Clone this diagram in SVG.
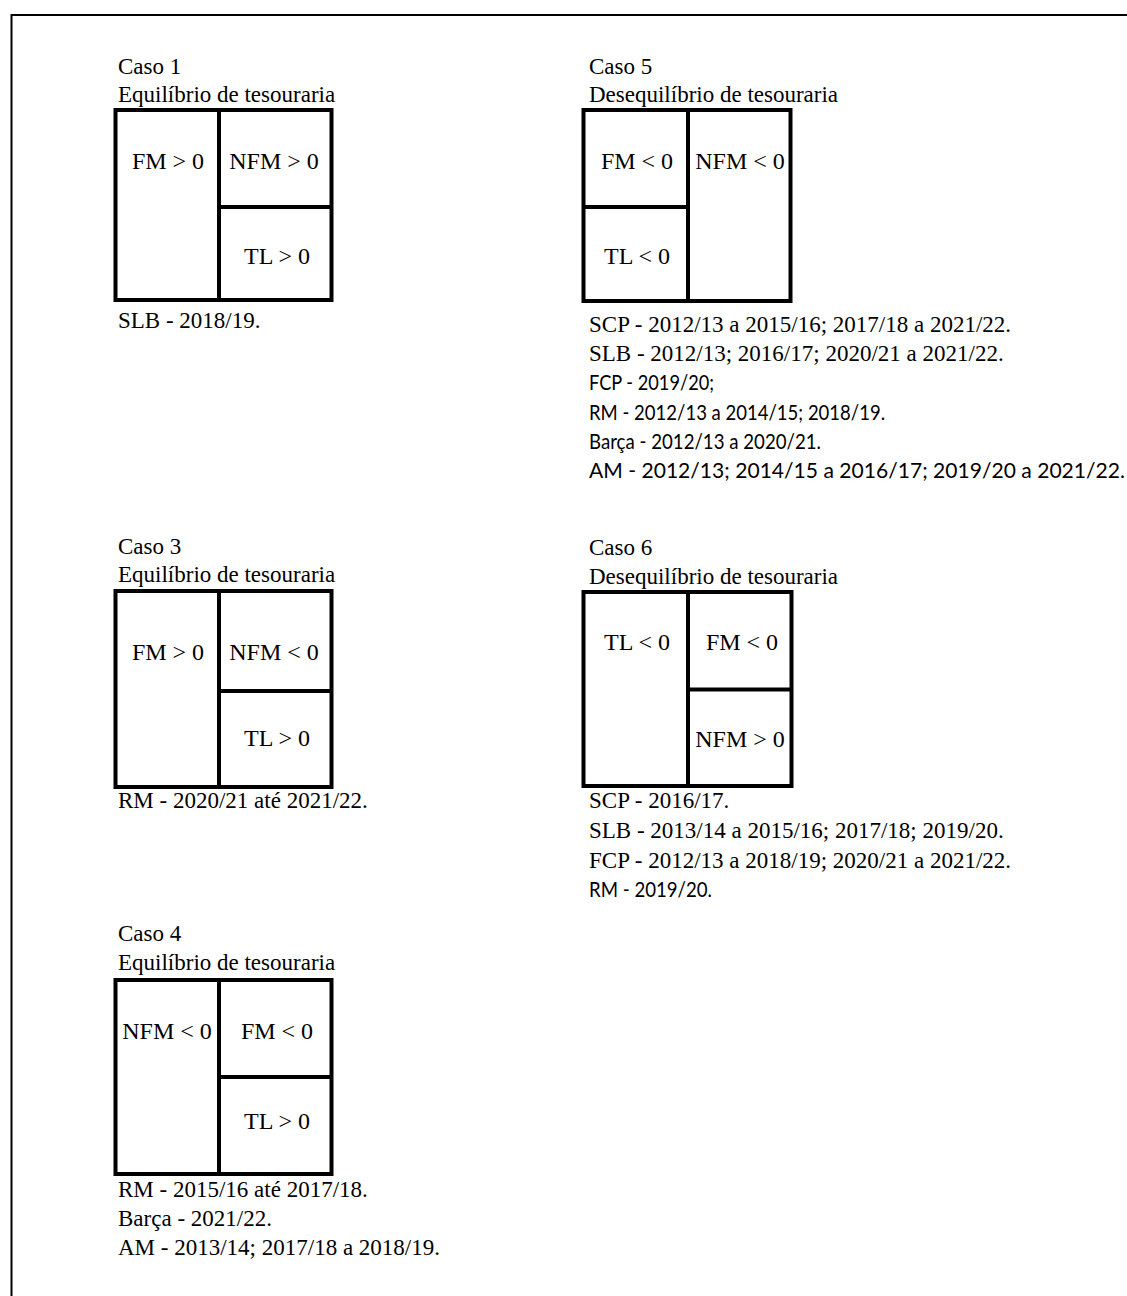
<svg xmlns="http://www.w3.org/2000/svg" width="1127" height="1296" viewBox="0 0 1127 1296">
<style>
  .t { font-family: "Liberation Serif", "Times New Roman", serif; font-size: 23px; fill: #000; }
  .b { font-family: "Liberation Serif", "Times New Roman", serif; font-size: 24px; fill: #000; text-anchor: middle; }
  .c { font-family: Lato, "Liberation Sans", sans-serif; font-size: 21px; fill: #000; }
  .box { fill: none; stroke: #000; stroke-width: 4; }
</style>
<rect x="0" y="0" width="1127" height="1296" fill="#fff"/>
<path d="M11.5,1296 V15 H1127" fill="none" stroke="#000" stroke-width="2"/>

<g id="caso1">
  <text class="t" x="118" y="74">Caso 1</text>
  <text class="t" x="118" y="102">Equilíbrio de tesouraria</text>
  <rect class="box" x="115.5" y="110" width="216" height="190"/>
  <path class="box" d="M219,110 V300 M219,207 H331.5"/>
  <text class="b" x="168" y="169">FM &gt; 0</text>
  <text class="b" x="274" y="169">NFM &gt; 0</text>
  <text class="b" x="277" y="264">TL &gt; 0</text>
  <text class="t" x="118" y="328">SLB - 2018/19.</text>
</g>

<g id="caso5">
  <text class="t" x="589" y="74">Caso 5</text>
  <text class="t" x="589" y="102">Desequilíbrio de tesouraria</text>
  <rect class="box" x="583.5" y="110" width="207" height="191"/>
  <path class="box" d="M688,110 V301 M583.5,207 H688"/>
  <text class="b" x="637" y="169">FM &lt; 0</text>
  <text class="b" x="740" y="169">NFM &lt; 0</text>
  <text class="b" x="637" y="264">TL &lt; 0</text>
  <text class="t" x="589" y="332">SCP - 2012/13 a 2015/16; 2017/18 a 2021/22.</text>
  <text class="t" x="589" y="361">SLB - 2012/13; 2016/17; 2020/21 a 2021/22.</text>
  <text class="c" x="589" y="390" textLength="125" lengthAdjust="spacingAndGlyphs">FCP - 2019/20;</text>
  <text class="c" x="589" y="420" textLength="296" lengthAdjust="spacingAndGlyphs">RM - 2012/13 a 2014/15; 2018/19.</text>
  <text class="c" x="589" y="449" textLength="232" lengthAdjust="spacingAndGlyphs">Barça - 2012/13 a 2020/21.</text>
  <text class="c" x="589" y="478" textLength="536" lengthAdjust="spacingAndGlyphs">AM - 2012/13; 2014/15 a 2016/17; 2019/20 a 2021/22.</text>
</g>

<g id="caso3">
  <text class="t" x="118" y="554">Caso 3</text>
  <text class="t" x="118" y="582">Equilíbrio de tesouraria</text>
  <rect class="box" x="115.5" y="591" width="216" height="196"/>
  <path class="box" d="M219,591 V787 M219,691 H331.5"/>
  <text class="b" x="168" y="660">FM &gt; 0</text>
  <text class="b" x="274" y="660">NFM &lt; 0</text>
  <text class="b" x="277" y="746">TL &gt; 0</text>
  <text class="t" x="118" y="808">RM - 2020/21 até 2021/22.</text>
</g>

<g id="caso6">
  <text class="t" x="589" y="555">Caso 6</text>
  <text class="t" x="589" y="584">Desequilíbrio de tesouraria</text>
  <rect class="box" x="583.5" y="592" width="208" height="194"/>
  <path class="box" d="M688,592 V786 M688,689.5 H791.5"/>
  <text class="b" x="637" y="650">TL &lt; 0</text>
  <text class="b" x="742" y="650">FM &lt; 0</text>
  <text class="b" x="740" y="747">NFM &gt; 0</text>
  <text class="t" x="589" y="808">SCP - 2016/17.</text>
  <text class="t" x="589" y="838">SLB - 2013/14 a 2015/16; 2017/18; 2019/20.</text>
  <text class="t" x="589" y="868">FCP - 2012/13 a 2018/19; 2020/21 a 2021/22.</text>
  <text class="c" x="589" y="897" textLength="123" lengthAdjust="spacingAndGlyphs">RM - 2019/20.</text>
</g>

<g id="caso4">
  <text class="t" x="118" y="941">Caso 4</text>
  <text class="t" x="118" y="970">Equilíbrio de tesouraria</text>
  <rect class="box" x="115.5" y="980" width="216" height="194"/>
  <path class="box" d="M219,980 V1174 M219,1077 H331.5"/>
  <text class="b" x="167" y="1039">NFM &lt; 0</text>
  <text class="b" x="277" y="1039">FM &lt; 0</text>
  <text class="b" x="277" y="1129">TL &gt; 0</text>
  <text class="t" x="118" y="1197">RM - 2015/16 até 2017/18.</text>
  <text class="t" x="118" y="1226">Barça - 2021/22.</text>
  <text class="t" x="118" y="1255">AM - 2013/14; 2017/18 a 2018/19.</text>
</g>
</svg>
